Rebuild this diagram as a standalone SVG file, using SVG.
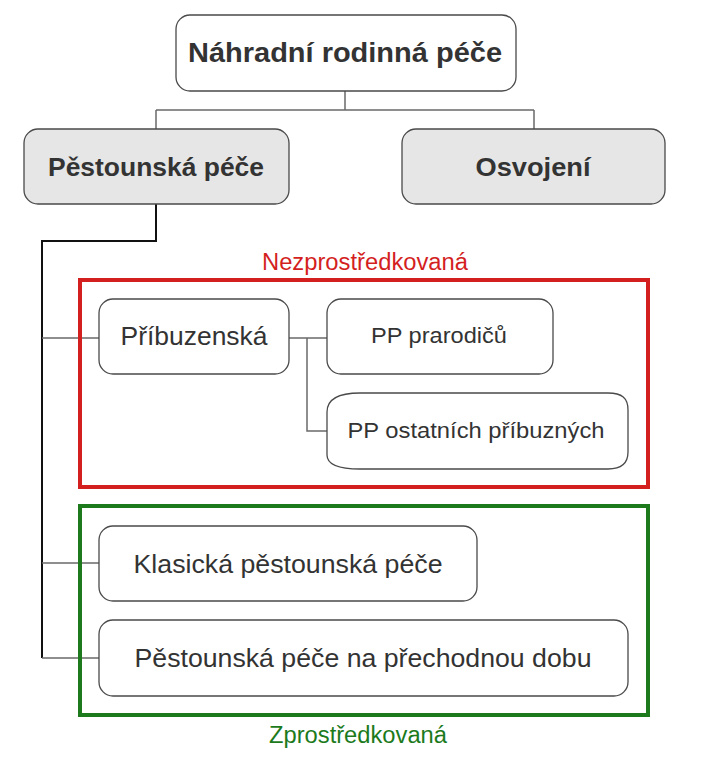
<svg xmlns="http://www.w3.org/2000/svg" width="702" height="758" viewBox="0 0 702 758">
<style>
.node{fill:#fff;stroke:#4a4a4a;stroke-width:1.3}
.gray{fill:#e6e6e6}
.t{font-family:"Liberation Sans",Arial,sans-serif;fill:#333;text-anchor:middle}
.b{font-weight:bold}
.conn{fill:none;stroke:#6a6a6a;stroke-width:1.5}
</style>
<rect width="702" height="758" fill="#fff"/>
<g id="connectors">
<path class="conn" d="M345,91 V110 M156,110 H534 M156,110 V129 M534,110 V129"/>
<path d="M156,204 V241 H42 V658" fill="none" stroke="#111" stroke-width="2"/>
<path class="conn" d="M42,338 H99 M42,563 H99 M42,658 H99"/>
<path class="conn" d="M289,338 H327 M307,338 V431 H327"/>
</g>
<g id="group-nezprostredkovana">
<rect x="80" y="280" width="568" height="207" fill="none" stroke="#d41f1f" stroke-width="4"/>
<text class="t" x="365" y="270" font-size="23" style="fill:#d41f1f" textLength="206" lengthAdjust="spacingAndGlyphs">Nezprostředkovaná</text>
</g>
<g id="group-zprostredkovana">
<rect x="80" y="506" width="568" height="209" fill="none" stroke="#1c7a1c" stroke-width="4"/>
<text class="t" x="358" y="743" font-size="23" style="fill:#1c7a1c" textLength="178" lengthAdjust="spacingAndGlyphs">Zprostředkovaná</text>
</g>
<g id="node-nrp">
<rect class="node" x="176" y="15" width="340" height="76" rx="14"/>
<text class="t b" x="345" y="62" font-size="27" textLength="314" lengthAdjust="spacingAndGlyphs">Náhradní rodinná péče</text>
</g>
<g id="node-pestounska">
<rect class="node gray" x="24" y="129" width="265" height="75" rx="14"/>
<text class="t b" x="156" y="176" font-size="25" textLength="216" lengthAdjust="spacingAndGlyphs">Pěstounská péče</text>
</g>
<g id="node-osvojeni">
<rect class="node gray" x="402" y="129" width="263" height="75" rx="14"/>
<text class="t b" x="533" y="176" font-size="25" textLength="115" lengthAdjust="spacingAndGlyphs">Osvojení</text>
</g>
<g id="node-pribuzenska">
<rect class="node" x="99" y="299" width="190" height="75" rx="14"/>
<text class="t" x="194" y="345" font-size="25" textLength="147" lengthAdjust="spacingAndGlyphs">Příbuzenská</text>
</g>
<g id="node-prarodicu">
<rect class="node" x="327" y="299" width="226" height="75" rx="14"/>
<text class="t" x="439" y="343" font-size="22" textLength="136" lengthAdjust="spacingAndGlyphs">PP prarodičů</text>
</g>
<g id="node-ostatnich">
<path class="node" d="M327,412 C327,398 340,393 360,393 L608,393 C622,393 628,398 628,410 L628,452 C628,463 622,469 608,469 L360,469 C338,469 327,464 327,455 Z"/>
<text class="t" x="476" y="438" font-size="22" textLength="257" lengthAdjust="spacingAndGlyphs">PP ostatních příbuzných</text>
</g>
<g id="node-klasicka">
<rect class="node" x="99" y="526" width="378" height="75" rx="14"/>
<text class="t" x="288" y="573" font-size="25" textLength="309" lengthAdjust="spacingAndGlyphs">Klasická pěstounská péče</text>
</g>
<g id="node-prechodna">
<rect class="node" x="99" y="620" width="529" height="76" rx="14"/>
<text class="t" x="363" y="667" font-size="25" textLength="457" lengthAdjust="spacingAndGlyphs">Pěstounská péče na přechodnou dobu</text>
</g>
</svg>
